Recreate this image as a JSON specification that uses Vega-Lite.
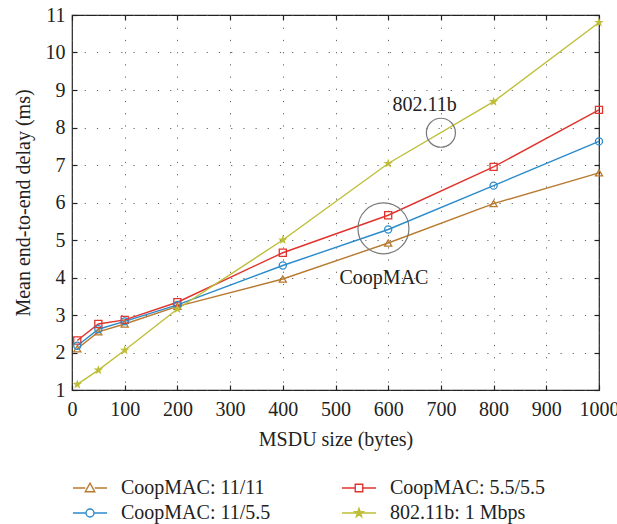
{
  "$schema": "https://vega.github.io/schema/vega-lite/v6.json",
  "width": 527,
  "height": 375,
  "autosize": {"type": "none"},
  "padding": {"left": 72, "top": 15, "right": 18, "bottom": 134},
  "datasets": {
    "delay": [
      {"series": "CoopMAC: 11/11", "size": 10, "delay": 2.1},
      {"series": "CoopMAC: 11/11", "size": 50, "delay": 2.55},
      {"series": "CoopMAC: 11/11", "size": 100, "delay": 2.76},
      {"series": "CoopMAC: 11/11", "size": 200, "delay": 3.23},
      {"series": "CoopMAC: 11/11", "size": 400, "delay": 3.96},
      {"series": "CoopMAC: 11/11", "size": 600, "delay": 4.92},
      {"series": "CoopMAC: 11/11", "size": 800, "delay": 5.97},
      {"series": "CoopMAC: 11/11", "size": 1000, "delay": 6.79},
      {"series": "CoopMAC: 5.5/5.5", "size": 10, "delay": 2.32},
      {"series": "CoopMAC: 5.5/5.5", "size": 50, "delay": 2.76},
      {"series": "CoopMAC: 5.5/5.5", "size": 100, "delay": 2.87},
      {"series": "CoopMAC: 5.5/5.5", "size": 200, "delay": 3.34},
      {"series": "CoopMAC: 5.5/5.5", "size": 400, "delay": 4.66},
      {"series": "CoopMAC: 5.5/5.5", "size": 600, "delay": 5.66},
      {"series": "CoopMAC: 5.5/5.5", "size": 800, "delay": 6.95},
      {"series": "CoopMAC: 5.5/5.5", "size": 1000, "delay": 8.47},
      {"series": "CoopMAC: 11/5.5", "size": 10, "delay": 2.18},
      {"series": "CoopMAC: 11/5.5", "size": 50, "delay": 2.62},
      {"series": "CoopMAC: 11/5.5", "size": 100, "delay": 2.83},
      {"series": "CoopMAC: 11/5.5", "size": 200, "delay": 3.27},
      {"series": "CoopMAC: 11/5.5", "size": 400, "delay": 4.32},
      {"series": "CoopMAC: 11/5.5", "size": 600, "delay": 5.28},
      {"series": "CoopMAC: 11/5.5", "size": 800, "delay": 6.45},
      {"series": "CoopMAC: 11/5.5", "size": 1000, "delay": 7.63},
      {"series": "802.11b: 1 Mbps", "size": 10, "delay": 1.15},
      {"series": "802.11b: 1 Mbps", "size": 50, "delay": 1.53},
      {"series": "802.11b: 1 Mbps", "size": 100, "delay": 2.06},
      {"series": "802.11b: 1 Mbps", "size": 200, "delay": 3.16},
      {"series": "802.11b: 1 Mbps", "size": 400, "delay": 5.0},
      {"series": "802.11b: 1 Mbps", "size": 600, "delay": 7.04},
      {"series": "802.11b: 1 Mbps", "size": 800, "delay": 8.69},
      {"series": "802.11b: 1 Mbps", "size": 1000, "delay": 10.8}
    ],
    "notes": [
      {"label": "802.11b", "ringX": 700, "ringY": 7.86, "textX": 669, "textY": 8.61},
      {"label": "CoopMAC", "ringX": 591, "ringY": 5.31, "textX": 592, "textY": 3.98}
    ]
  },
  "layer": [
    {
      "data": {"name": "delay"},
      "mark": {"type": "line", "strokeWidth": 1.4},
      "encoding": {
        "x": {
          "field": "size", "type": "quantitative",
          "scale": {"domain": [0, 1000], "nice": false},
          "axis": {
            "orient": "bottom", "title": "MSDU size (bytes)",
            "values": [0, 100, 200, 300, 400, 500, 600, 700, 800, 900, 1000],
            "format": "d", "labelOverlap": false, "labelFlush": false,
            "grid": true, "labelPadding": 14, "titlePadding": 10
          }
        },
        "y": {
          "field": "delay", "type": "quantitative",
          "scale": {"domain": [1, 11], "nice": false, "zero": false},
          "axis": {
            "orient": "left", "title": "Mean end-to-end delay (ms)",
            "values": [1, 2, 3, 4, 5, 6, 7, 8, 9, 10, 11],
            "format": "d", "labelOverlap": false, "labelFlush": false,
            "grid": true, "labelPadding": 12, "titlePadding": 12
          }
        },
        "color": {
          "field": "series", "type": "nominal",
          "scale": {
            "domain": ["CoopMAC: 11/11", "CoopMAC: 5.5/5.5", "CoopMAC: 11/5.5", "802.11b: 1 Mbps"],
            "range": ["#B87A30", "#E0342C", "#2A8BCB", "#BEBE38"]
          },
          "legend": {
            "title": null,
            "orient": "none",
            "legendX": 1,
            "legendY": 463,
            "columns": 2,
            "direction": "horizontal",
            "padding": 0,
            "symbolSize": 100,
            "symbolOffset": 7,
            "labelOffset": 21,
            "columnPadding": 68,
            "rowPadding": 5,
            "labelFont": "Liberation Serif",
            "labelFontSize": 20,
            "labelColor": "#222",
            "encode": {
              "symbols": {
                "update": {
                  "size": {"value": 100},
                  "strokeWidth": {"value": 1.4},
                  "shape": {"signal": "datum.value === 'CoopMAC: 11/11' ? 'M-3.4,0H-0.95M0.95,0H3.4M-0.95,0.75L0,-0.95L0.95,0.75Z' : datum.value === 'CoopMAC: 5.5/5.5' ? 'M-3.4,0H-0.75M0.75,0H3.4M-0.75,-0.75H0.75V0.75H-0.75Z' : datum.value === 'CoopMAC: 11/5.5' ? 'M-3.4,0H-0.8M0.8,0H3.4M-0.8,0A0.8,0.8 0 1,0 0.8,0A0.8,0.8 0 1,0 -0.8,0' : 'M-3.4,0H3.4M0,-0.9L0.21,-0.29L0.86,-0.28L0.34,0.11L0.53,0.73L0,0.36L-0.53,0.73L-0.34,0.11L-0.86,-0.28L-0.21,-0.29Z'"},
                  "fill": {"signal": "datum.value === '802.11b: 1 Mbps' ? '#BEBE38' : 'transparent'"},
                  "fillOpacity": {"signal": "datum.value === '802.11b: 1 Mbps' ? 1 : 0"}
                }
              }
            }
          }
        }
      }
    },
    {
      "data": {"name": "delay"},
      "transform": [{"filter": "datum.series !== '802.11b: 1 Mbps'"}],
      "mark": {"type": "point", "filled": false, "strokeWidth": 1.3, "size": 50, "opacity": 1},
      "encoding": {
        "x": {"field": "size", "type": "quantitative", "axis": null},
        "y": {"field": "delay", "type": "quantitative", "axis": null},
        "color": {"field": "series", "type": "nominal", "legend": null},
        "shape": {
          "field": "series", "type": "nominal",
          "scale": {
            "domain": ["CoopMAC: 11/11", "CoopMAC: 5.5/5.5", "CoopMAC: 11/5.5"],
            "range": ["triangle-up", "square", "circle"]
          },
          "legend": null
        }
      }
    },
    {
      "data": {"name": "delay"},
      "transform": [{"filter": "datum.series === '802.11b: 1 Mbps'"}],
      "mark": {
        "type": "point", "filled": true, "opacity": 1, "size": 100, "strokeWidth": 0.8,
        "shape": "M0,-1L0.235,-0.324L0.951,-0.309L0.380,0.124L0.588,0.809L0,0.4L-0.588,0.809L-0.380,0.124L-0.951,-0.309L-0.235,-0.324Z"
      },
      "encoding": {
        "x": {
          "field": "size", "type": "quantitative",
          "axis": {"orient": "top", "title": null, "labels": false, "grid": false,
                   "values": [0, 100, 200, 300, 400, 500, 600, 700, 800, 900, 1000]}
        },
        "y": {
          "field": "delay", "type": "quantitative",
          "axis": {"orient": "right", "title": null, "labels": false, "grid": false,
                   "values": [1, 2, 3, 4, 5, 6, 7, 8, 9, 10, 11]}
        },
        "color": {"field": "series", "type": "nominal", "legend": null}
      }
    },
    {
      "data": {"name": "notes"},
      "transform": [{"filter": "datum.label === '802.11b'"}],
      "mark": {"type": "point", "shape": "circle", "filled": false, "size": 841, "stroke": "#7a7a7a", "strokeWidth": 1.2, "opacity": 1},
      "encoding": {
        "x": {"field": "ringX", "type": "quantitative", "axis": null},
        "y": {"field": "ringY", "type": "quantitative", "axis": null}
      }
    },
    {
      "data": {"name": "notes"},
      "transform": [{"filter": "datum.label === 'CoopMAC'"}],
      "mark": {"type": "point", "shape": "circle", "filled": false, "size": 2601, "stroke": "#7a7a7a", "strokeWidth": 1.2, "opacity": 1},
      "encoding": {
        "x": {"field": "ringX", "type": "quantitative", "axis": null},
        "y": {"field": "ringY", "type": "quantitative", "axis": null}
      }
    },
    {
      "data": {"name": "notes"},
      "mark": {"type": "text", "font": "Liberation Serif", "fontSize": 20, "color": "#222", "align": "center", "baseline": "middle"},
      "encoding": {
        "x": {"field": "textX", "type": "quantitative", "axis": null},
        "y": {"field": "textY", "type": "quantitative", "axis": null},
        "text": {"field": "label", "type": "nominal"}
      }
    }
  ],
  "resolve": {"axis": {"x": "independent", "y": "independent"}},
  "config": {
    "font": "Liberation Serif",
    "view": {"stroke": "#222", "strokeWidth": 1.2},
    "axis": {
      "domain": false,
      "labelFont": "Liberation Serif",
      "labelFontSize": 20,
      "labelColor": "#222",
      "titleFont": "Liberation Serif",
      "titleFontSize": 20,
      "titleFontWeight": "normal",
      "titleColor": "#222",
      "tickColor": "#222",
      "tickSize": -5,
      "tickWidth": 1.2,
      "gridColor": "#555",
      "gridDash": [1.2, 11],
      "gridWidth": 1,
      "gridOpacity": 0.9
    }
  }
}
